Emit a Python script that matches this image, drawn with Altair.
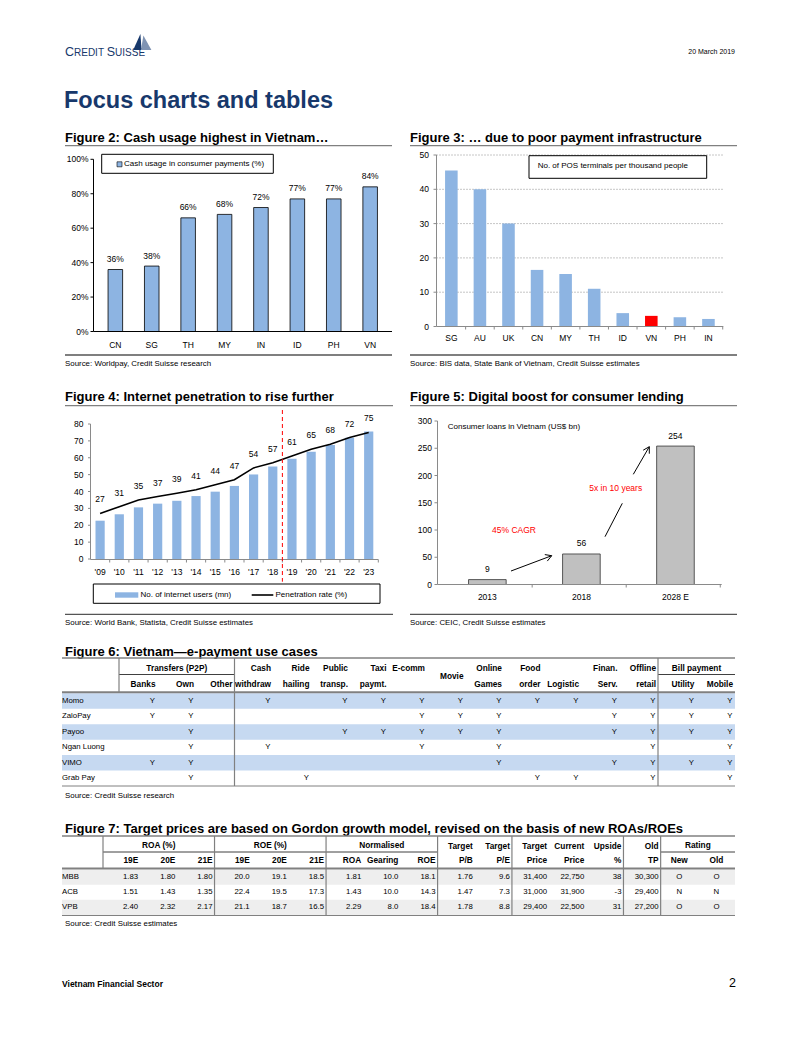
import altair as alt
import pandas as pd

W, H = 802, 1037
SANS = "Liberation Sans, Arial, Helvetica, sans-serif"
NAVY = "#17386b"
BLUE = "#8db4e2"
GREY = "#808080"
AXG = "#8a8a8a"

# ------------------------------------------------------------------ data
page_date = "20 March 2019"
page_title = "Focus charts and tables"
footer_left = "Vietnam Financial Sector"
footer_page = "2"

fig2_title = "Figure 2: Cash usage highest in Vietnam…"
fig2_source = "Source: Worldpay, Credit Suisse research"
fig2_legend = "Cash usage in consumer payments (%)"
fig2_countries = ["CN", "SG", "TH", "MY", "IN", "ID", "PH", "VN"]
fig2_cash = [36, 38, 66, 68, 72, 77, 77, 84]
fig2_ticks = [0, 20, 40, 60, 80, 100]

fig3_title = "Figure 3: … due to poor payment infrastructure"
fig3_source = "Source: BIS data, State Bank of Vietnam, Credit Suisse estimates"
fig3_legend = "No. of POS terminals per thousand people"
fig3_countries = ["SG", "AU", "UK", "CN", "MY", "TH", "ID", "VN", "PH", "IN"]
fig3_pos = [45.5, 40.0, 30.0, 16.5, 15.3, 11.0, 3.9, 3.1, 2.7, 2.2]
fig3_highlight = "VN"
fig3_ticks = [0, 10, 20, 30, 40, 50]

fig4_title = "Figure 4: Internet penetration to rise further"
fig4_source = "Source: World Bank, Statista, Credit Suisse estimates"
fig4_legend = ["No. of internet users (mn)", "Penetration rate (%)"]
fig4_years = ["'09", "'10", "'11", "'12", "'13", "'14", "'15", "'16",
              "'17", "'18", "'19", "'20", "'21", "'22", "'23"]
fig4_users = [22.7, 26.5, 30.6, 32.8, 34.5, 37.3, 39.9, 43.3,
              50.1, 54.8, 59.4, 63.6, 67.6, 71.8, 75.6]
fig4_rate = [27, 31, 35, 37, 39, 41, 44, 47, 54, 57, 61, 65, 68, 72, 75]
fig4_last_actual = "'18"
fig4_ticks = [0, 10, 20, 30, 40, 50, 60, 70, 80]

fig5_title = "Figure 5: Digital boost for consumer lending"
fig5_source = "Source: CEIC, Credit Suisse estimates"
fig5_label = "Consumer loans in Vietnam (US$ bn)"
fig5_years = ["2013", "2018", "2028 E"]
fig5_loans = [9, 56, 254]
fig5_notes = ["45% CAGR", "5x in 10 years"]
fig5_ticks = [0, 50, 100, 150, 200, 250, 300]

fig6_title = "Figure 6: Vietnam—e-payment use cases"
fig6_source = "Source: Credit Suisse research"
fig6_wallets = ["Momo", "ZaloPay", "Payoo", "Ngan Luong", "VIMO", "Grab Pay"]
fig6_columns = ["Banks", "Own", "Other", "Cash withdraw", "Ride hailing",
                "Public transp.", "Taxi paymt.", "E-comm", "Movie", "Online Games",
                "Food order", "Logistic", "Finan. Serv.", "Offline retail",
                "Utility", "Mobile"]
fig6_head_top = ["", "", "", "Cash", "Ride", "Public", "Taxi", "E-comm", "",
                 "Online", "Food", "", "Finan.", "Offline", "", ""]
fig6_head_mid = ["", "", "", "", "", "", "", "", "Movie",
                 "", "", "", "", "", "", ""]
fig6_head_bottom = ["Banks", "Own", "Other", "withdraw", "hailing", "transp.",
                    "paymt.", "", "", "Games", "order", "Logistic", "Serv.",
                    "retail", "Utility", "Mobile"]
fig6_groups = [("Transfers (P2P)", "Banks", 3), ("Bill payment", "Utility", 2)]
momo_uses = ["Banks", "Own", "Cash withdraw", "Public transp.", "Taxi paymt.",
             "E-comm", "Movie", "Online Games", "Food order", "Logistic",
             "Finan. Serv.", "Offline retail", "Utility", "Mobile"]
zalopay_uses = ["Banks", "Own", "E-comm", "Movie", "Online Games",
                "Finan. Serv.", "Offline retail", "Utility", "Mobile"]
payoo_uses = ["Own", "Public transp.", "Taxi paymt.", "E-comm", "Movie",
              "Online Games", "Finan. Serv.", "Offline retail", "Utility", "Mobile"]
nganluong_uses = ["Own", "Cash withdraw", "E-comm", "Online Games",
                  "Offline retail", "Mobile"]
vimo_uses = ["Banks", "Own", "Online Games", "Finan. Serv.", "Offline retail",
             "Utility", "Mobile"]
grabpay_uses = ["Own", "Ride hailing", "Food order", "Logistic",
                "Offline retail", "Mobile"]
fig6_uses = [momo_uses, zalopay_uses, payoo_uses, nganluong_uses, vimo_uses, grabpay_uses]

fig7_title = ("Figure 7: Target prices are based on Gordon growth model, "
              "revised on the basis of new ROAs/ROEs")
fig7_source = "Source: Credit Suisse estimates"
fig7_banks = ["MBB", "ACB", "VPB"]
fig7_columns = ["ROA 19E", "ROA 20E", "ROA 21E", "ROE 19E", "ROE 20E", "ROE 21E",
                "Norm ROA", "Norm Gearing", "Norm ROE", "Target P/B", "Target P/E",
                "Target Price", "Current Price", "Upside %", "Old TP",
                "Rating New", "Rating Old"]
fig7_head_top = ["", "", "", "", "", "", "", "", "", "Target", "Target",
                 "Target", "Current", "Upside", "Old", "", ""]
fig7_head_bottom = ["19E", "20E", "21E", "19E", "20E", "21E", "ROA", "Gearing",
                    "ROE", "P/B", "P/E", "Price", "Price", "%", "TP", "New", "Old"]
fig7_groups = [("ROA (%)", "ROA 19E", 3), ("ROE (%)", "ROE 19E", 3),
               ("Normalised", "Norm ROA", 3), ("Rating", "Rating New", 2)]
fig7_centered = ["Rating New", "Rating Old"]
roa_19e = ["1.83", "1.51", "2.40"]
roa_20e = ["1.80", "1.43", "2.32"]
roa_21e = ["1.80", "1.35", "2.17"]
roe_19e = ["20.0", "22.4", "21.1"]
roe_20e = ["19.1", "19.5", "18.7"]
roe_21e = ["18.5", "17.3", "16.5"]
norm_roa = ["1.81", "1.43", "2.29"]
norm_gearing = ["10.0", "10.0", "8.0"]
norm_roe = ["18.1", "14.3", "18.4"]
target_pb = ["1.76", "1.47", "1.78"]
target_pe = ["9.6", "7.3", "8.8"]
target_price = ["31,400", "31,000", "29,400"]
current_price = ["22,750", "31,900", "22,500"]
upside_pct = ["38", "-3", "31"]
old_tp = ["30,300", "29,400", "27,200"]
rating_new = ["O", "N", "O"]
rating_old = ["O", "N", "O"]
fig7_values = [roa_19e, roa_20e, roa_21e, roe_19e, roe_20e, roe_21e, norm_roa,
               norm_gearing, norm_roe, target_pb, target_pe, target_price,
               current_price, upside_pct, old_tp, rating_new, rating_old]

# ------------------------------------------------------------------ helpers
ONE = pd.DataFrame({"k": [0]})
FS = 8          # legend / annotation text
FS_AX = 8.5     # axis and value labels
FS_SRC = 7.9    # source lines
FS_T = 7.8      # table body
FS_H = 8.3      # table headers


def label(x, y, s, size=FS, font=SANS, weight="normal", align="left",
          color="black", baseline="middle"):
    return alt.Chart(ONE).mark_text(
        font=font, fontSize=size, fontWeight=weight, align=align,
        baseline=baseline, color=color
    ).encode(x=alt.value(x), y=alt.value(y), text=alt.value(s))


def hline(x1, x2, y, color=GREY, width=1.0):
    return alt.Chart(ONE).mark_rule(color=color, strokeWidth=width).encode(
        x=alt.value(x1), x2=alt.value(x2), y=alt.value(y))


def seg(x1, y1, x2, y2, color="black", width=1.0):
    return alt.Chart(ONE).mark_rule(color=color, strokeWidth=width).encode(
        x=alt.value(x1), y=alt.value(y1), x2=alt.value(x2), y2=alt.value(y2))


def box(x1, x2, y1, y2, fill="white", stroke="black", sw=1.0):
    kw = dict(fill=fill)
    if stroke:
        kw.update(stroke=stroke, strokeWidth=sw)
    return alt.Chart(ONE).mark_rect(**kw).encode(
        x=alt.value(x1), x2=alt.value(x2), y=alt.value(y1), y2=alt.value(y2))


def axes(xs, ys, cats, ticks, ax, ay, x_end, y_top, xlab_y, color="black",
         tick=3, pad=2, expr=None, band_tick=None):
    """Axis lines, y ticks + labels and category labels drawn with the panel scales."""
    tdf = pd.DataFrame({"v": ticks})
    lab = expr if expr else "format(datum.v, 'd')"
    out = [
        seg(ax, ay, ax, y_top, color=color),
        seg(ax, ay, x_end, ay, color=color),
        alt.Chart(tdf).mark_rule(color=color, strokeWidth=1).encode(
            y=alt.Y("v:Q", scale=ys, axis=None),
            x=alt.value(ax - tick), x2=alt.value(ax)),
        alt.Chart(tdf).transform_calculate(lab=lab).mark_text(
            font=SANS, fontSize=FS_AX, align="right", baseline="middle").encode(
            y=alt.Y("v:Q", scale=ys, axis=None),
            x=alt.value(ax - tick - pad), text="lab:N"),
        alt.Chart(pd.DataFrame({"c": cats})).mark_text(
            font=SANS, fontSize=FS_AX, align="center", baseline="middle").encode(
            x=alt.X("c:N", scale=xs, axis=None), y=alt.value(xlab_y), text="c:N"),
    ]
    if band_tick is not None:
        out.append(alt.Chart(pd.DataFrame({"c": cats})).mark_rule(
            color=color, strokeWidth=1, xOffset=band_tick).encode(
            x=alt.X("c:N", scale=xs, axis=None, bandPosition=1),
            y=alt.value(ay), y2=alt.value(ay + 3)))
    return out


layers = []

# ------------------------------------------------------------------ page header / footer
layers += [
    label(65, 56, "C", size=12.5, color=NAVY, baseline="alphabetic"),
    label(74, 56, "REDIT", size=10, color=NAVY, baseline="alphabetic"),
    label(106.8, 56, "S", size=12.5, color=NAVY, baseline="alphabetic"),
    label(115.1, 56, "UISSE", size=10, color=NAVY, baseline="alphabetic"),
    alt.Chart(ONE).mark_point(shape="M -0.6 1 L 0.3 -1 L 0.45 1 Z", filled=True,
                              size=256, color=NAVY, opacity=1).encode(
        x=alt.value(138), y=alt.value(42)),
    alt.Chart(ONE).mark_point(shape="M -0.5 1 L -0.2 -0.8 L 0.8 1 Z", filled=True,
                              size=256, color="#7f93b3", opacity=1).encode(
        x=alt.value(145), y=alt.value(42)),
    label(735, 52, page_date, size=7, align="right"),
    label(64, 108, page_title, size=23.5, weight="bold", color=NAVY,
          baseline="alphabetic"),
    label(62, 983.5, footer_left, size=8.5, weight="bold"),
    label(736, 983, footer_page, size=12.5, align="right"),
]

# titles, rules, sources of the four chart panels
for (x0, x1, ty, ly, sy, title, source) in [
    (65, 392, 138.3, 145.7, 355.0, fig2_title, fig2_source),
    (410, 737, 138.3, 145.7, 355.0, fig3_title, fig3_source),
    (65, 393, 397.3, 405.7, 614.3, fig4_title, fig4_source),
    (410, 737, 397.3, 405.7, 614.3, fig5_title, fig5_source),
]:
    layers += [
        label(x0, ty, title, size=13, weight="bold"),
        hline(x0, x1, ly, color=GREY, width=1.3),
        hline(x0, x1, sy, color="#555555", width=1.3),
        label(x0, sy + 8.8, source, size=FS_SRC),
    ]

# ------------------------------------------------------------------ Figure 2
df2 = pd.DataFrame({"country": fig2_countries, "cash": fig2_cash})
x2s = alt.Scale(domain=fig2_countries, range=[93.5, 392.0], paddingInner=0.6, paddingOuter=0.4)
y2s = alt.Scale(domain=[0, 100], range=[331.5, 159.3], nice=False)
fig2 = alt.layer(
    alt.Chart(df2).mark_bar(fill=BLUE, stroke="black", strokeWidth=0.8).encode(
        x=alt.X("country:N", scale=x2s, axis=None),
        y=alt.Y("cash:Q", scale=y2s, axis=None)),
    alt.Chart(df2).transform_calculate(lab="datum.cash + '%'").mark_text(
        font=SANS, fontSize=FS_AX, dy=-10.5, baseline="middle").encode(
        x=alt.X("country:N", scale=x2s, axis=None),
        y=alt.Y("cash:Q", scale=y2s, axis=None),
        text="lab:N"),
    *axes(x2s, y2s, fig2_countries, fig2_ticks, 93.5, 331.5, 392, 159.3, 345,
          color="black", tick=3, pad=2, expr="datum.v + '%'"),
)
layers += [
    fig2,
    box(101.7, 273.3, 154.3, 173.3),
    box(117, 122, 161.8, 166.8, fill=BLUE, stroke="black", sw=0.6),
    label(124, 164.3, fig2_legend),
]

# ------------------------------------------------------------------ Figure 3
df3 = pd.DataFrame({"country": fig3_countries, "pos": fig3_pos})
x3s = alt.Scale(domain=fig3_countries, range=[436.5, 723.3], paddingInner=0.56, paddingOuter=0.3)
y3s = alt.Scale(domain=[0, 50], range=[326.5, 155.0], nice=False)
fig3 = alt.layer(
    alt.Chart(pd.DataFrame({"v": fig3_ticks[1:]})).mark_rule(
        color="#8c8c8c", strokeWidth=1, strokeDash=[1, 2]).encode(
        y=alt.Y("v:Q", scale=y3s, axis=None), x=alt.value(436.5), x2=alt.value(723.3)),
    alt.Chart(df3).mark_bar().encode(
        x=alt.X("country:N", scale=x3s, axis=None),
        y=alt.Y("pos:Q", scale=y3s, axis=None),
        color=alt.condition(f"datum.country == '{fig3_highlight}'",
                            alt.value("#ff0000"), alt.value(BLUE))),
    *axes(x3s, y3s, fig3_countries, fig3_ticks, 436.5, 326.5, 723.3, 155.0, 338.3,
          color=AXG, tick=3, pad=4.5, band_tick=8.0),
)
layers += [
    fig3,
    box(529, 706.7, 155.7, 178.3),
    label(537.7, 165.7, fig3_legend),
]

# ------------------------------------------------------------------ Figure 4
df4 = pd.DataFrame({"year": fig4_years, "users": fig4_users, "rate": fig4_rate})
x4s = alt.Scale(domain=fig4_years, range=[90.5, 378.3], paddingInner=0.52, paddingOuter=0.26)
y4s = alt.Scale(domain=[0, 80], range=[559.0, 424.0], nice=False)
fig4 = alt.layer(
    alt.Chart(df4).mark_bar(color=BLUE).encode(
        x=alt.X("year:N", scale=x4s, axis=None),
        y=alt.Y("users:Q", scale=y4s, axis=None)),
    alt.Chart(df4).mark_line(color="black", strokeWidth=1.6).encode(
        x=alt.X("year:N", scale=x4s, axis=None),
        y=alt.Y("rate:Q", scale=y4s, axis=None)),
    alt.Chart(df4).mark_text(font=SANS, fontSize=FS_AX, dy=-14, baseline="middle").encode(
        x=alt.X("year:N", scale=x4s, axis=None),
        y=alt.Y("rate:Q", scale=y4s, axis=None),
        text="rate:Q"),
    *axes(x4s, y4s, fig4_years, fig4_ticks, 90.5, 559.5, 378.3, 424.0, 571.7,
          color=AXG, tick=2.5, pad=4.5, band_tick=5.0),
    # forecast divider: half a step to the right of the last actual year
    alt.Chart(pd.DataFrame({"year": [fig4_last_actual]})).mark_rule(
        color="#ff0000", strokeWidth=1, strokeDash=[4, 3], xOffset=5).encode(
        x=alt.X("year:N", scale=x4s, axis=None, bandPosition=1),
        y=alt.value(410), y2=alt.value(581.7)),
)
layers += [
    fig4,
    box(93.3, 380, 584, 603.3),
    box(115, 138.3, 592.3, 597.7, fill=BLUE, stroke=None),
    label(140.5, 595, fig4_legend[0]),
    hline(251.7, 273.3, 595, color="black", width=1.6),
    label(275.5, 595, fig4_legend[1]),
]

# ------------------------------------------------------------------ Figure 5
df5 = pd.DataFrame({"year": fig5_years, "loans": fig5_loans})
x5s = alt.Scale(domain=fig5_years, range=[437.5, 725.3], paddingInner=0.6, paddingOuter=0.33)
y5s = alt.Scale(domain=[0, 300], range=[584.5, 421.0], nice=False)
fig5 = alt.layer(
    alt.Chart(df5).mark_bar(fill="#c0c0c0", stroke="#333333", strokeWidth=0.8).encode(
        x=alt.X("year:N", scale=x5s, axis=None),
        y=alt.Y("loans:Q", scale=y5s, axis=None)),
    alt.Chart(df5).mark_text(font=SANS, fontSize=FS_AX, dy=-10.5, baseline="middle").encode(
        x=alt.X("year:N", scale=x5s, axis=None),
        y=alt.Y("loans:Q", scale=y5s, axis=None),
        text="loans:Q"),
    *axes(x5s, y5s, fig5_years, fig5_ticks, 437.5, 584.5, 721.7, 421.0, 596.7,
          color=AXG, tick=3, pad=2.6, band_tick=26.0),
)
layers += [
    fig5,
    label(447.7, 427.3, fig5_label),
    label(514, 530, fig5_notes[0], color="#ff0000", align="center", size=8.5),
    label(615.7, 487.7, fig5_notes[1], color="#ff0000", align="center", size=8.5),
    # annotation arrows
    seg(511, 571, 551.7, 555.7),
    seg(551.7, 555.7, 544.8, 554.6),
    seg(551.7, 555.7, 547.3, 561.1),
    seg(605, 536.7, 622.3, 503.3),
    seg(633.3, 474.3, 649.3, 446.7),
    seg(649.3, 446.7, 643.2, 450.2),
    seg(649.3, 446.7, 649.3, 453.7),
]

# ------------------------------------------------------------------ table helpers


def head_text(df, field, y, xs, bp=1, align="right", dx=-2):
    return alt.Chart(df).transform_filter(f"datum.{field} != ''").mark_text(
        font=SANS, fontSize=FS_H, fontWeight="bold", align=align, dx=dx,
        baseline="middle").encode(
        x=alt.X("col:N", scale=xs, axis=None, bandPosition=bp),
        y=alt.value(y), text=f"{field}:N")


def group_layers(groups, cols, xs, ty, uy):
    out = []
    for name, first, n in groups:
        i = cols.index(first)
        last = cols[i + n - 1]
        if n % 2:
            anchor, bp = cols[i + n // 2], 0.5
        else:
            anchor, bp = cols[i + n // 2 - 1], 1
        d = pd.DataFrame({"col": [first], "end": [last], "anchor": [anchor], "name": [name]})
        out.append(alt.Chart(d).mark_text(font=SANS, fontSize=FS_H, fontWeight="bold",
                                          align="center", baseline="middle").encode(
            x=alt.X("anchor:N", scale=xs, axis=None, bandPosition=bp),
            y=alt.value(ty), text="name:N"))
        out.append(alt.Chart(d).mark_rule(color="#404040", strokeWidth=1).encode(
            x=alt.X("col:N", scale=xs, axis=None, bandPosition=0),
            x2=alt.X2("end:N", bandPosition=1),
            y=alt.value(uy)))
    return out


def vlines(cols, xs, y1, y2, bp=1):
    d = pd.DataFrame({"col": cols})
    return alt.Chart(d).mark_rule(color=GREY, strokeWidth=1.2).encode(
        x=alt.X("col:N", scale=xs, axis=None, bandPosition=bp),
        y=alt.value(y1), y2=alt.value(y2))


# ------------------------------------------------------------------ Figure 6 (table)
x6s = alt.Scale(domain=fig6_columns, range=[119.0, 735.0], paddingInner=0, paddingOuter=0)
y6s = alt.Scale(domain=fig6_wallets, range=[693.3, 786.0], paddingInner=0, paddingOuter=0)
cells6 = pd.DataFrame([(w, c, "Y") for w, uses in zip(fig6_wallets, fig6_uses) for c in uses],
                      columns=["wallet", "col", "txt"])
head6 = pd.DataFrame({"col": fig6_columns, "top": fig6_head_top,
                      "mid": fig6_head_mid, "bottom": fig6_head_bottom})

fig6 = alt.layer(
    alt.Chart(pd.DataFrame({"wallet": fig6_wallets[0::2]})).mark_rect(fill="#c6d9f1").encode(
        y=alt.Y("wallet:N", scale=y6s, axis=None), x=alt.value(62), x2=alt.value(735)),
    alt.Chart(pd.DataFrame({"wallet": fig6_wallets})).mark_text(
        font=SANS, fontSize=FS_T, align="left", baseline="middle").encode(
        y=alt.Y("wallet:N", scale=y6s, axis=None), x=alt.value(62), text="wallet:N"),
    alt.Chart(cells6).mark_text(font=SANS, fontSize=FS_T, align="right", dx=-2.5,
                                baseline="middle").encode(
        x=alt.X("col:N", scale=x6s, axis=None, bandPosition=1),
        y=alt.Y("wallet:N", scale=y6s, axis=None), text="txt:N"),
    head_text(head6, "top", 669, x6s),
    head_text(head6, "mid", 676.7, x6s),
    head_text(head6, "bottom", 685, x6s),
    *group_layers(fig6_groups, fig6_columns, x6s, 669, 674.5),
    vlines(["Banks"], x6s, 658, 692.3, bp=0),
    vlines(["Other", "Offline retail"], x6s, 658, 786),
)
layers += [
    label(65, 651.6, fig6_title, size=13, weight="bold"),
    hline(62, 735, 658, width=1.3),
    fig6,
    hline(62, 735, 692.3, width=2),
    hline(62, 735, 786, width=1),
    label(65, 795.5, fig6_source, size=FS_SRC),
]

# ------------------------------------------------------------------ Figure 7 (table)
x7s = alt.Scale(domain=fig7_columns, range=[103.0, 735.0], paddingInner=0, paddingOuter=0)
y7s = alt.Scale(domain=fig7_banks, range=[869.5, 915.0], paddingInner=0, paddingOuter=0)
cells7 = pd.DataFrame([(b, c, vals[i]) for c, vals in zip(fig7_columns, fig7_values)
                       for i, b in enumerate(fig7_banks)],
                      columns=["bank", "col", "txt"])
cells7["centered"] = cells7["col"].isin(fig7_centered)
head7 = pd.DataFrame({"col": fig7_columns, "top": fig7_head_top, "bottom": fig7_head_bottom})
head7["centered"] = head7["col"].isin(fig7_centered)

fig7 = alt.layer(
    alt.Chart(pd.DataFrame({"bank": fig7_banks[0::2]})).mark_rect(fill="#eeeeee").encode(
        y=alt.Y("bank:N", scale=y7s, axis=None), x=alt.value(62), x2=alt.value(735)),
    alt.Chart(pd.DataFrame({"bank": fig7_banks})).mark_text(
        font=SANS, fontSize=FS_T, align="left", baseline="middle").encode(
        y=alt.Y("bank:N", scale=y7s, axis=None), x=alt.value(62), text="bank:N"),
    alt.Chart(cells7[~cells7["centered"]]).mark_text(
        font=SANS, fontSize=FS_T, align="right", dx=-2, baseline="middle").encode(
        x=alt.X("col:N", scale=x7s, axis=None, bandPosition=1),
        y=alt.Y("bank:N", scale=y7s, axis=None), text="txt:N"),
    alt.Chart(cells7[cells7["centered"]]).mark_text(
        font=SANS, fontSize=FS_T, align="center", baseline="middle").encode(
        x=alt.X("col:N", scale=x7s, axis=None, bandPosition=0.5),
        y=alt.Y("bank:N", scale=y7s, axis=None), text="txt:N"),
    head_text(head7, "top", 847, x7s),
    head_text(head7[~head7["centered"]], "bottom", 861, x7s),
    head_text(head7[head7["centered"]], "bottom", 861, x7s, bp=0.5, align="center", dx=0),
    *group_layers(fig7_groups, fig7_columns, x7s, 846, 852),
    vlines(["ROA 19E"], x7s, 836, 868.5, bp=0),
    vlines(["ROA 21E", "ROE 21E", "Norm ROE", "Target P/E", "Upside %", "Old TP"],
           x7s, 836, 915.5),
)
layers += [
    label(65, 828.6, fig7_title, size=13, weight="bold"),
    hline(62, 735, 836, width=1.3),
    fig7,
    hline(62, 735, 868.5, width=2),
    hline(62, 735, 915.5, width=1),
    label(65, 923.5, fig7_source, size=FS_SRC),
]

chart = alt.layer(*layers).resolve_scale(
    x="independent", y="independent"
).properties(
    width=W, height=H, padding=0, background="white",
    autosize=alt.AutoSizeParams(type="none"),
).configure_view(stroke=None)

chart.save("out.html", embed_options={"renderer": "svg", "actions": False})
